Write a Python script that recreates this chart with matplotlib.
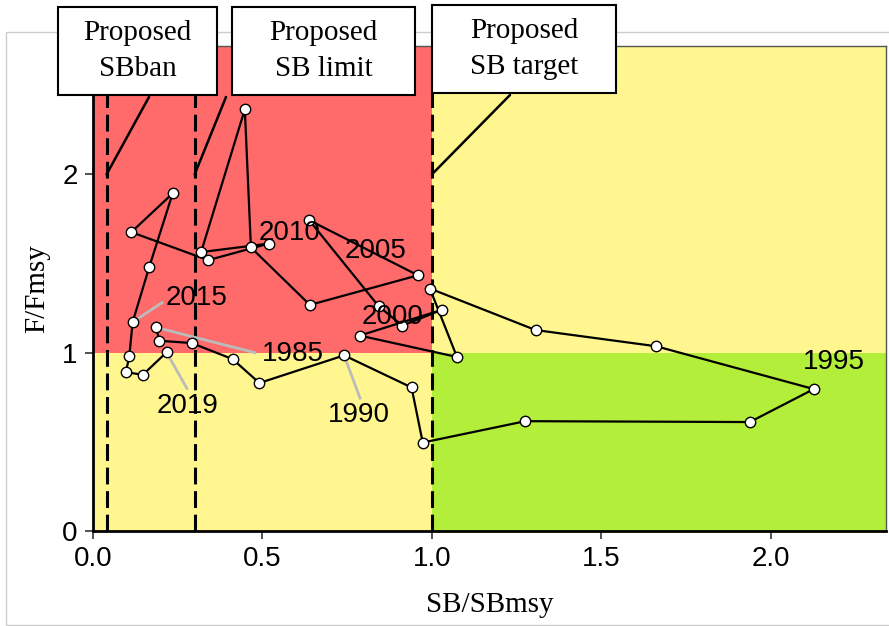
import matplotlib
matplotlib.use("Agg")
import matplotlib.pyplot as plt
from matplotlib.patches import Rectangle

# Kobe-style trajectory of spawning biomass vs fishing mortality
years = list(range(1985, 2020))
sb_ratio = [0.186, 0.196, 0.291, 0.412, 0.491, 0.741, 0.940, 0.973, 1.276, 1.938,
            2.127, 1.662, 1.306, 0.994, 1.074, 0.787, 1.029, 0.913, 0.843, 0.638,
            0.959, 0.640, 0.466, 0.448, 0.319, 0.519, 0.340, 0.113, 0.235, 0.166,
            0.117, 0.107, 0.097, 0.147, 0.217]
f_ratio = [1.142, 1.067, 1.054, 0.964, 0.830, 0.985, 0.805, 0.496, 0.616, 0.611,
           0.796, 1.036, 1.127, 1.360, 0.976, 1.096, 1.240, 1.152, 1.260, 1.743,
           1.434, 1.268, 1.590, 2.365, 1.564, 1.612, 1.519, 1.676, 1.893, 1.481,
           1.172, 0.979, 0.891, 0.876, 1.002]

# reference points
ref_x = [0.04, 0.3, 1.0]
ref_names = ["Proposed\nSBban", "Proposed\nSB limit", "Proposed\nSB target"]

# labelled years: (year, text position, leader start or None)
label_years = [1985, 1990, 1995, 2000, 2005, 2010, 2015, 2019]
label_pos = [(0.590, 0.990), (0.784, 0.648), (2.186, 0.950), (0.885, 1.200),
             (0.835, 1.570), (0.581, 1.674), (0.307, 1.309), (0.279, 0.702)]
label_lead = [(0.478, 1.000), (0.788, 0.745), None, None,
              None, None, (0.204, 1.281), (0.277, 0.800)]

RED = "#FF6A6A"
YELLOW = "#FFF68F"
GREEN = "#B3EE3A"

sans = ["Liberation Sans", "DejaVu Sans"]
serif = ["Liberation Serif", "DejaVu Serif"]

fig = plt.figure(figsize=(8.89, 6.26), dpi=100)
ax = fig.add_axes([93 / 889, 1 - 531 / 626, 793 / 889, 485 / 626])
xmax, ymax = 2.34, 2.72
ax.set_xlim(0, xmax)
ax.set_ylim(0, ymax)

# quadrants
ax.add_patch(Rectangle((0, 1), 1, ymax - 1, color=RED, lw=0, zorder=0))
ax.add_patch(Rectangle((0, 0), 1, 1, color=YELLOW, lw=0, zorder=0))
ax.add_patch(Rectangle((1, 1), xmax - 1, ymax - 1, color=YELLOW, lw=0, zorder=0))
ax.add_patch(Rectangle((1, 0), xmax - 1, 1, color=GREEN, lw=0, zorder=0))

for x in ref_x:
    ax.axvline(x, color="black", lw=2.2, dashes=(5.5, 2.2), zorder=2)

ax.plot(sb_ratio, f_ratio, color="black", lw=1.6, zorder=3,
        marker="o", ms=7.5, mfc="white", mec="black", mew=1.0)

for yr, (tx, ty), lead in zip(label_years, label_pos, label_lead):
    i = years.index(yr)
    if lead is not None:
        ax.plot([lead[0], sb_ratio[i]], [lead[1], f_ratio[i]], color="#BBBBBB",
                lw=2, zorder=2.5)
    ax.text(tx, ty, str(yr), ha="center", va="center", fontsize=20,
            family=sans, zorder=4)

# reference point boxes above the panel
boxes = [(58, 217, 7, 95), (232, 415, 7, 95), (432, 616, 5, 93)]
lead_start = [(149, 97), (226, 97), (510, 95)]
for name, x, (l, r, t, b), (sx, sy) in zip(ref_names, ref_x, boxes, lead_start):
    ax.annotate("", xy=(x, 2.0), xycoords="data",
                xytext=(sx, 626 - sy), textcoords="figure pixels",
                arrowprops=dict(arrowstyle="-", color="black", lw=1.8,
                                shrinkA=0, shrinkB=0),
                annotation_clip=False, zorder=5)
    fig.patches.append(Rectangle((l / 889, 1 - b / 626), (r - l) / 889,
                                 (b - t) / 626, transform=fig.transFigure,
                                 facecolor="white", edgecolor="black", lw=1.5,
                                 zorder=2))
    fig.text((l + r) / 2 / 889, 1 - (t + b) / 2 / 626, name, ha="center",
             va="center", fontsize=21, family=serif, linespacing=1.45, zorder=3)

# light frame around the panel
fig.patches.append(Rectangle((6 / 889, 1 - 625 / 626), 890 / 889, 593 / 626,
                             transform=fig.transFigure, fill=False,
                             edgecolor="#CCCCCC", lw=1, zorder=0))

ax.set_xticks([0.0, 0.5, 1.0, 1.5, 2.0])
ax.set_xticklabels(["0.0", "0.5", "1.0", "1.5", "2.0"])
ax.set_yticks([0, 1, 2])
ax.tick_params(length=6, width=1.2, color="#333333", pad=5, labelsize=20)
for lab in ax.get_xticklabels() + ax.get_yticklabels():
    lab.set_family(sans)

for side in ["left", "bottom"]:
    ax.spines[side].set_linewidth(2)
    ax.spines[side].set_color("black")
for side in ["top", "right"]:
    ax.spines[side].set_linewidth(1)
    ax.spines[side].set_color("#555555")

ax.set_xlabel("SB/SBmsy", fontsize=21, family=serif, labelpad=14)
ax.set_ylabel("F/Fmsy", fontsize=21, family=serif, labelpad=9)

fig.savefig("out.png", dpi=100)
